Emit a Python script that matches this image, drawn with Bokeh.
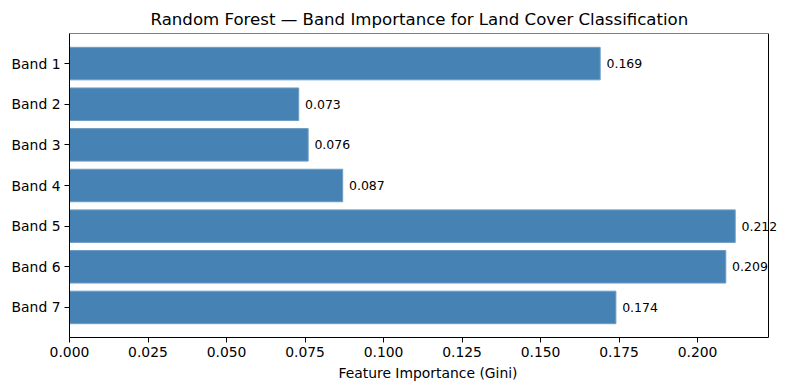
from bokeh.plotting import figure
from bokeh.models import (Range1d, FixedTicker, ColumnDataSource, LabelSet,
                          NumeralTickFormatter, BoxAnnotation)
from bokeh.core.properties import value
from bokeh.embed import file_html
from bokeh.resources import INLINE

bands = ["Band 1", "Band 2", "Band 3", "Band 4", "Band 5", "Band 6", "Band 7"]
importance = [0.169, 0.073, 0.076, 0.087, 0.212, 0.209, 0.174]
x_ticks = [0.0, 0.025, 0.05, 0.075, 0.1, 0.125, 0.15, 0.175, 0.2]

pos = list(range(len(bands)))
src = ColumnDataSource(dict(
    y=pos, v=importance,
    lx=[v + 0.002 for v in importance],
    lab=["%.3f" % v for v in importance],
))

FONT = "DejaVu Sans"
W, H = 786, 390
LEFT, RIGHT_EDGE = 69, 768
xmax = max(importance) * 1.05
# the frame runs to the figure edge so the value labels are not clipped;
# the visible box is drawn at xmax
x_end = xmax * (W - LEFT) / (RIGHT_EDGE - LEFT)

p = figure(width=W, height=H, output_backend="svg", toolbar_location=None,
           x_range=Range1d(0, x_end),
           y_range=Range1d(len(bands) - 1 + 0.74, -0.74),
           title="Random Forest \u2014 Band Importance for Land Cover Classification",
           min_border_left=LEFT, min_border_right=0, min_border_bottom=53, min_border_top=33)

p.title.align = "left"
p.title.offset = 81
p.title.text_font = FONT
p.title.text_font_size = "16.6px"
p.title.text_font_style = "normal"
p.title.text_color = "black"

p.hbar(y="y", right="v", left=0, height=0.8, source=src,
       fill_color="#4682b4", line_color="#6e9cc4", line_width=1)

labels = LabelSet(x="lx", y="y", text="lab", source=src, text_baseline="middle",
                  text_align="left", text_font=value(FONT), text_font_size=value("12.5px"),
                  text_color="black")
p.add_layout(labels)

frame_box = BoxAnnotation(left=0, right=xmax, fill_alpha=0, line_color="black",
                          line_width=1, line_alpha=1)
p.add_layout(frame_box)

p.xgrid.visible = False
p.ygrid.visible = False
p.outline_line_color = None

p.xaxis.ticker = FixedTicker(ticks=x_ticks)
p.xaxis.formatter = NumeralTickFormatter(format="0.000")
p.xaxis.bounds = (0, xmax)
p.yaxis.ticker = FixedTicker(ticks=pos)
p.yaxis.major_label_overrides = {i: b for i, b in enumerate(bands)}
p.xaxis.axis_label = "Feature Importance (Gini)"

for ax in (p.xaxis, p.yaxis):
    ax.major_tick_out = 5
    ax.major_tick_in = 0
    ax.minor_tick_out = 0
    ax.minor_tick_in = 0
    ax.axis_line_color = "black"
    ax.major_tick_line_color = "black"
    ax.major_label_text_font = FONT
    ax.major_label_text_font_size = "13.9px"
    ax.major_label_text_color = "black"
    ax.axis_label_text_font = FONT
    ax.axis_label_text_font_size = "13.9px"
    ax.axis_label_text_font_style = "normal"
    ax.axis_label_text_color = "black"
    ax.major_label_standoff = 4
p.xaxis.axis_label_standoff = 5

open("out.html", "w").write(file_html(p, INLINE))
